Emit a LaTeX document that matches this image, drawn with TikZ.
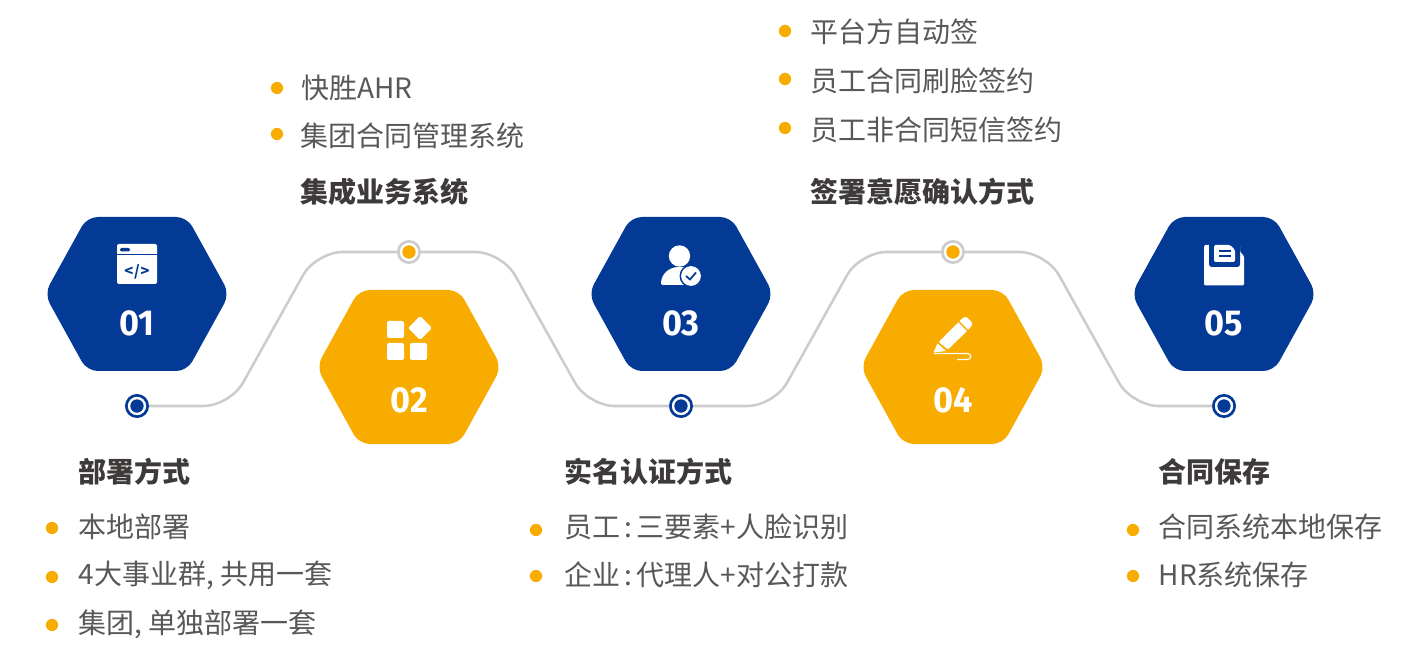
\documentclass[tikz,border=0pt]{standalone}
\usepackage{fontspec}
\setmainfont{Noto Sans CJK SC}
\newfontfamily\numfont[FakeStretch=0.95]{Fira Sans}
\definecolor{hexblue}{HTML}{023A96}
\definecolor{hexorange}{HTML}{F8AC00}
\definecolor{wiregray}{HTML}{CCCCCC}
\definecolor{itemgray}{HTML}{595757}
\definecolor{headgray}{HTML}{3E3A39}
\tikzset{
  wire/.style={draw=wiregray, line width=1.9pt, rounded corners=20pt},
  headtext/.style={anchor=west, inner sep=0pt, text=headgray, font=\fontsize{21pt}{24pt}\selectfont\bfseries},
  itemtext/.style={anchor=west, inner sep=0pt, text=itemgray, font=\fontsize{21pt}{24pt}\selectfont},
  numtext/.style={inner sep=0pt, text=white, font=\fontsize{27pt}{28pt}\numfont\bfseries},
  bulletdot/.style={circle, fill=hexorange, inner sep=0pt, minimum size=9.2pt},
  bluedot/.style={circle, draw=hexblue, fill=white, line width=2pt, inner sep=0pt, minimum size=16pt, path picture={\fill[hexblue] (path picture bounding box.center) circle (5pt);}},
  graydot/.style={circle, draw=wiregray, fill=white, line width=2pt, inner sep=0pt, minimum size=16pt, path picture={\fill[hexorange] (path picture bounding box.center) circle (5pt);}},
  iconfill/.style={fill=white, draw=none},
}
% rounded hexagon: name, centre, colour
\newcommand{\hexa}[3]{
  \coordinate (#1) at (#2);
  \fill[#3, rounded corners=8pt] ([shift={(-92.5,0)}]#1) -- ([shift={(-50,-77)}]#1) -- ([shift={(50,-77)}]#1) -- ([shift={(92.5,0)}]#1) -- ([shift={(50,77)}]#1) -- ([shift={(-50,77)}]#1) -- cycle;
}
\newcommand{\colonsep}{\hspace{3pt}:\hspace{3pt}}
\begin{document}
\begin{tikzpicture}[x=0.75pt, y=-0.75pt]
\useasboundingbox (0,0) rectangle (1420,666);

% connectors
\node[bluedot] (dot1) at (137,406) {};
\node[graydot] (dot2) at (409,252) {};
\node[bluedot] (dot3) at (681,406) {};
\node[graydot] (dot4) at (953,252) {};
\node[bluedot] (dot5) at (1224,406) {};
\coordinate (bend1) at (230,406);
\coordinate (bend2) at (316,252);
\coordinate (bend3) at (502,252);
\coordinate (bend4) at (588,406);
\coordinate (bend5) at (774,406);
\coordinate (bend6) at (860,252);
\coordinate (bend7) at (1046,252);
\coordinate (bend8) at (1132,406);
\draw[wire] (dot1) -- (bend1) -- (bend2) -- (dot2);
\draw[wire] (dot2) -- (bend3) -- (bend4) -- (dot3);
\draw[wire] (dot3) -- (bend5) -- (bend6) -- (dot4);
\draw[wire] (dot4) -- (bend7) -- (bend8) -- (dot5);

% hexagons
\hexa{hex1}{137,294}{hexblue}
\hexa{hex2}{409,367}{hexorange}
\hexa{hex3}{681,294}{hexblue}
\hexa{hex4}{953,367}{hexorange}
\hexa{hex5}{1224,294}{hexblue}
\node[numtext] (num1) at (137,323) {01};
\node[numtext] (num2) at (409,400) {02};
\node[numtext] (num3) at (681,323) {03};
\node[numtext] (num4) at (953,400) {04};
\node[numtext] (num5) at (1224,323) {05};

% icon 01
\fill[iconfill, rounded corners=1.5pt] (117,244) rectangle (157,284);
\fill[hexblue] (117,254.5) rectangle (157,255.5);
\fill[hexblue, rounded corners=1pt] (120,248) rectangle (130,251.5);
\node[inner sep=0pt, text=hexblue, font=\fontsize{11pt}{12pt}\selectfont\bfseries] (code1) at (137,271.5) {<\hspace{0.6pt}/\hspace{0.6pt}>};

% icon 02
\fill[iconfill, rounded corners=1.5pt] (387,321) rectangle (404,338);
\fill[iconfill, rounded corners=1.5pt] (387,343) rectangle (404,360);
\fill[iconfill, rounded corners=1.5pt] (410,343) rectangle (427,360);
\fill[iconfill, rounded corners=1.5pt] (420,316) -- (432,328) -- (420,340) -- (408,328) -- cycle;

% icon 03
\fill[iconfill] (679.5,256) circle (8pt);
\fill[iconfill, rounded corners=1pt] (661,285) .. controls (661,274) and (669,267) .. (680,267) .. controls (691,267) and (699,274) .. (699,285) -- cycle;
\fill[hexblue] (691,276) circle (8.6pt);
\fill[iconfill] (691,276) circle (7.4pt);
\draw[hexblue, line width=1.3pt] (686,276) -- (690,279.5) -- (696,272.5);

% icon 04
\fill[iconfill, rounded corners=1pt] (938.5,342) -- (962,318.5) -- (966,316.5) -- (972.5,323) -- (971,327) -- (948,349.5) -- cycle;
\fill[hexorange] (958,322) -- (959,321) -- (969,331) -- (968,332) -- cycle;
\fill[iconfill] (933.5,352.5) -- (937.5,343.5) -- (946,351) -- cycle;
\draw[white, line width=0.9pt] (934,353.5) -- (967,353.5) .. controls (972,353.5) and (972,359.5) .. (967,359.5) -- (957,359.5);

% icon 05
\fill[iconfill, rounded corners=1pt] (1204,245) -- (1240,245) -- (1240,252) -- (1244,256) -- (1244,285.5) -- (1204,285.5) -- cycle;
\fill[hexblue, rounded corners=2pt] (1209,240) rectangle (1240,267);
\fill[iconfill, rounded corners=1pt] (1214,245) -- (1230,245) -- (1235,250) -- (1235,262) -- (1214,262) -- cycle;
\fill[hexblue] (1219,250) rectangle (1231,252);
\fill[hexblue] (1219,255) rectangle (1231,257);

% group 1
\node[headtext] (head1) at (78.5,472) {部署方式};
\node[itemtext] (item1a) at (78.5,527) {本地部署};
\node[itemtext] (item1b) at (78.5,575) {4大事业群, 共用一套};
\node[itemtext] (item1c) at (78.5,624) {集团, 单独部署一套};
\node[bulletdot] (mark1a) at (52,528) {};
\node[bulletdot] (mark1b) at (52,577) {};
\node[bulletdot] (mark1c) at (52,625) {};

% group 2
\node[headtext] (head2) at (300.5,192) {集成业务系统};
\node[itemtext] (item2a) at (301,88) {快胜AHR};
\node[itemtext] (item2b) at (300.5,136) {集团合同管理系统};
\node[bulletdot] (mark2a) at (277,88) {};
\node[bulletdot] (mark2b) at (277,134) {};

% group 3
\node[headtext] (head3) at (564.5,472) {实名认证方式};
\node[itemtext] (item3a) at (564.5,527) {员工\colonsep 三要素+人脸识别};
\node[itemtext] (item3b) at (564.5,575) {企业\colonsep 代理人+对公打款};
\node[bulletdot] (mark3a) at (536,530) {};
\node[bulletdot] (mark3b) at (536,576) {};

% group 4
\node[headtext] (head4) at (810.5,192) {签署意愿确认方式};
\node[itemtext] (item4a) at (810.5,32) {平台方自动签};
\node[itemtext] (item4b) at (810.5,81) {员工合同刷脸签约};
\node[itemtext] (item4c) at (810.5,130) {员工非合同短信签约};
\node[bulletdot] (mark4a) at (785,31) {};
\node[bulletdot] (mark4b) at (785,79) {};
\node[bulletdot] (mark4c) at (785,128) {};

% group 5
\node[headtext] (head5) at (1158.5,472) {合同保存};
\node[itemtext] (item5a) at (1158.5,527) {合同系统本地保存};
\node[itemtext] (item5b) at (1158.5,575) {HR系统保存};
\node[bulletdot] (mark5a) at (1133,530) {};
\node[bulletdot] (mark5b) at (1133,576) {};
\end{tikzpicture}
\end{document}
